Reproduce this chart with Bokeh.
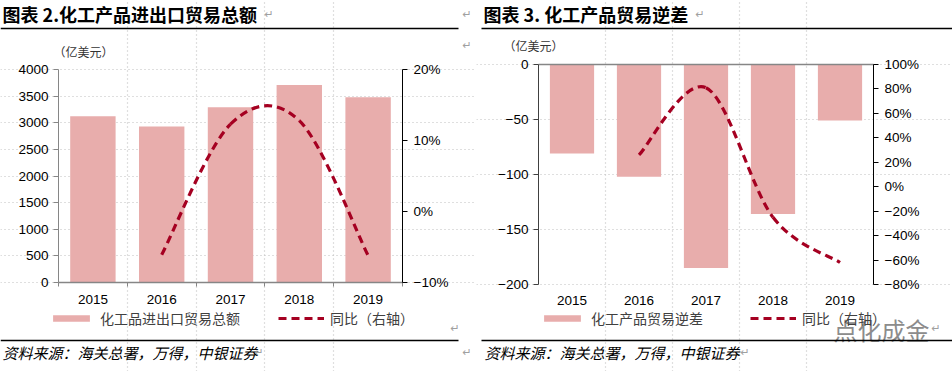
from bokeh.plotting import figure
from bokeh.models import (Range1d, LinearAxis, FixedTicker, Label, BoxAnnotation,
                          Legend, LegendItem, ColumnDataSource)
from bokeh.layouts import row
from bokeh.embed import file_html
from bokeh.resources import INLINE

# ---------------- data ----------------
years = ["2015", "2016", "2017", "2018", "2019"]
trade_total = [3120, 2930, 3290, 3710, 3480]          # 亿美元
trade_total_yoy = [None, -6.1, 12.3, 12.8, -6.2]      # %
trade_deficit = [-81, -102, -185, -136, -51]          # 亿美元
trade_deficit_yoy = [None, 26, 81, -25, -62]          # %

left_y_ticks = [0, 500, 1000, 1500, 2000, 2500, 3000, 3500, 4000]
left_pct_ticks = [-10, 0, 10, 20]
left_pct_labels = ["−10%", "0%", "10%", "20%"]
right_y_ticks = [-200, -150, -100, -50, 0]
right_y_labels = ["−200", "−150", "−100", "−50", "0"]
right_pct_ticks = [-80, -60, -40, -20, 0, 20, 40, 60, 80, 100]
right_pct_labels = ["−80%", "−60%", "−40%", "−20%", "0%", "20%", "40%", "60%", "80%", "100%"]

BAR = "#E8ADAC"
LINE = "#A50021"
GRID = "#BFBFBF"
TICK_FONT = "Liberation Sans"
CJK = "Noto Sans CJK SC"
FIG_W, FIG_H = 476, 371


def smooth_segments(xs, ys):
    pts = [(x, y) for x, y in zip(xs, ys) if y is not None]
    n = len(pts)
    seg = dict(x0=[], y0=[], x1=[], y1=[], cx0=[], cy0=[], cx1=[], cy1=[])
    for i in range(n - 1):
        p0 = pts[i - 1] if i > 0 else pts[i]
        p1, p2 = pts[i], pts[i + 1]
        p3 = pts[i + 2] if i + 2 < n else pts[i + 1]
        seg["x0"].append(p1[0]); seg["y0"].append(p1[1])
        seg["x1"].append(p2[0]); seg["y1"].append(p2[1])
        seg["cx0"].append(p1[0] + (p2[0] - p0[0]) / 6)
        seg["cy0"].append(p1[1] + (p2[1] - p0[1]) / 6)
        seg["cx1"].append(p2[0] - (p3[0] - p1[0]) / 6)
        seg["cy1"].append(p2[1] - (p3[1] - p1[1]) / 6)
    return seg


def span_range(v0, v1, px0, px1, full):
    """Range whose v0 sits at pixel px0 and v1 at px1 (pixels measured along the frame)."""
    k = (v1 - v0) / (px1 - px0)
    return Range1d(v0 - px0 * k, v0 + (full - px0) * k)


def make_panel(ox, frame, values, yoy, yr, y_ticks, y_labels, pr, p_ticks, p_labels,
               deficit, y_axis_color):
    fl, ft, fr, fb = [frame[0] - ox, frame[1], frame[2] - ox, frame[3]]
    n = len(years)
    xr = span_range(0, n, fl, fr, FIG_W)
    yrng = span_range(yr[0], yr[1], FIG_H - fb, FIG_H - ft, FIG_H)
    prng = span_range(pr[0], pr[1], FIG_H - fb, FIG_H - ft, FIG_H)
    p = figure(width=FIG_W, height=FIG_H, output_backend="svg", toolbar_location=None,
               x_range=xr, y_range=yrng, min_border=0,
               outline_line_color=None, background_fill_color="white",
               border_fill_color="white")
    p.extra_y_ranges = {"pct": prng}

    xc = [i + 0.5 for i in range(n)]
    src = ColumnDataSource(dict(x=xc, v=values, zero=[0] * n))
    bars = p.vbar(x="x", top="v", bottom="zero", width=0.66, source=src,
                  fill_color=BAR, line_color=None)

    seg = smooth_segments(xc, yoy)
    line = p.bezier(x0="x0", y0="y0", x1="x1", y1="y1", cx0="cx0", cy0="cy0",
                    cx1="cx1", cy1="cy1", source=ColumnDataSource(seg),
                    y_range_name="pct", line_color=LINE, line_width=3.2,
                    line_dash="8 5")

    # x axis
    xa = p.xaxis[0]
    xa.ticker = FixedTicker(ticks=xc, minor_ticks=list(range(n + 1)))
    xa.major_label_overrides = {x: y for x, y in zip(xc, years)}
    xa.major_tick_line_color = None
    xa.major_label_text_font = TICK_FONT
    xa.major_label_text_font_size = "13.5px"
    xa.major_label_text_color = "#000000"
    xa.bounds = (0, n)
    if deficit:
        xa.fixed_location = yr[0]
        xa.axis_line_color = None
        xa.minor_tick_line_color = None
        xa.major_label_standoff = 5
        top = LinearAxis(ticker=FixedTicker(ticks=[]), axis_line_color="#868686",
                         axis_line_width=1.5, major_tick_line_color=None,
                         minor_tick_line_color=None, fixed_location=0, bounds=(0, n))
        p.add_layout(top, "above")
    else:
        xa.fixed_location = 0
        xa.axis_line_color = "#868686"
        xa.axis_line_width = 1.5
        xa.minor_tick_line_color = "#868686"
        xa.minor_tick_out = 4
        xa.minor_tick_in = 0
        xa.major_label_standoff = 6

    # left y axis
    ya = p.yaxis[0]
    ya.fixed_location = 0
    ya.bounds = yr
    ya.ticker = FixedTicker(ticks=y_ticks)
    if y_labels is not None:
        ya.major_label_overrides = {t: l for t, l in zip(y_ticks, y_labels)}
    ya.axis_line_color = y_axis_color
    ya.major_tick_line_color = y_axis_color
    ya.minor_tick_line_color = None
    ya.major_tick_out = 5
    ya.major_tick_in = 0
    ya.major_label_standoff = 5
    ya.major_label_text_font = TICK_FONT
    ya.major_label_text_font_size = "13.5px"
    ya.major_label_text_color = "#000000"

    # right y axis
    ra = LinearAxis(y_range_name="pct", ticker=FixedTicker(ticks=p_ticks), fixed_location=n,
                    bounds=pr,
                    major_label_overrides={t: l for t, l in zip(p_ticks, p_labels)},
                    axis_line_color="#000000", major_tick_line_color="#000000",
                    minor_tick_line_color=None, major_tick_out=5, major_tick_in=0,
                    major_label_standoff=6, major_label_text_font=TICK_FONT,
                    major_label_text_font_size="13.5px", major_label_text_color="#000000")
    p.add_layout(ra, "right")

    # grids
    p.xgrid.ticker = FixedTicker(ticks=list(range(1, n)))
    p.xgrid.bounds = yr
    p.ygrid.ticker = FixedTicker(ticks=y_ticks)
    p.ygrid.bounds = (0, n)
    for g in (p.xgrid, p.ygrid):
        g.grid_line_color = GRID
        g.grid_line_dash = "1 3"
        g.grid_line_width = 1.2

    return p, bars, line


def place(p, ox, text, rx, ry, size, color="#000000", font=CJK, style="normal",
          align="left"):
    p.add_layout(Label(x=rx - ox, y=FIG_H - ry, x_units="screen", y_units="screen",
                       text=text, text_font=font, text_font_size=size,
                       text_color=color, text_font_style=style, text_align=align,
                       text_baseline="middle"))


def rule(p, ox, rx0, rx1, ry):
    p.add_layout(BoxAnnotation(left=rx0 - ox, right=rx1 - ox, top=FIG_H - ry + 0.7,
                               bottom=FIG_H - ry - 0.7, left_units="screen",
                               right_units="screen", top_units="screen",
                               bottom_units="screen", fill_color="#000000",
                               fill_alpha=1, line_color=None))


def legend(p, ox, bars, line, labels, rx, ry, spacing):
    lg = Legend(items=[LegendItem(label=labels[0], renderers=[bars]),
                       LegendItem(label=labels[1], renderers=[line])],
                orientation="horizontal", location=(rx - ox, FIG_H - ry - 7),
                padding=0, margin=0, spacing=spacing, glyph_width=46, glyph_height=8,
                label_standoff=6, label_height=14, border_line_color=None,
                background_fill_alpha=0, label_text_font=CJK,
                label_text_font_size="14px", label_text_color="#404040")
    p.add_layout(lg)


MARK = dict(size="11px", color="#A0A0A0", font="DejaVu Sans")

# ---------------- left panel ----------------
LF = (58, 69, 402, 282)
p1, b1, l1 = make_panel(0, LF, trade_total, trade_total_yoy, (0, 4000), left_y_ticks, None,
                        (-10, 20), left_pct_ticks, left_pct_labels, False, "#868686")
place(p1, 0, "图表 2.化工产品进出口贸易总额", 2, 13, "18px", style="bold")
place(p1, 0, "↵", 264, 14, **MARK)
place(p1, 0, "↵", 462, 14, **MARK)
place(p1, 0, "↵", 462, 45, **MARK)
rule(p1, 0, 0, 458, 28)
place(p1, 0, "（亿美元）", 53, 51, "12px", color="#333333")
legend(p1, 0, b1, l1, ["化工品进出口贸易总额", "同比（右轴）"], 48, 321, 38)
place(p1, 0, "↵", 450, 328, **MARK)
rule(p1, 0, 0, 458, 340)
place(p1, 0, "资料来源：海关总署，万得，中银证券", 2, 352, "15px", style="italic")
place(p1, 0, "↵", 254, 352, **MARK)
place(p1, 0, "↵", 462, 352, **MARK)

# ---------------- right panel ----------------
RF = (538, 64, 873, 284)
p2, b2, l2 = make_panel(476, RF, trade_deficit, trade_deficit_yoy, (-200, 0), right_y_ticks,
                        right_y_labels, (-80, 100), right_pct_ticks, right_pct_labels,
                        True, "#404040")
place(p2, 476, "图表 3. 化工产品贸易逆差", 483, 13, "18px", style="bold")
place(p2, 476, "↵", 695, 14, **MARK)
rule(p2, 476, 481, 952, 28)
place(p2, 476, "（亿美元）", 503, 45, "12px", color="#333333")
legend(p2, 476, b2, l2, ["化工产品贸易逆差", "同比（右轴）"], 539, 321, 47)
place(p2, 476, "点化成金", 833, 329, "24px", color="#8C8C8C")
place(p2, 476, "↵", 931, 328, **MARK)
rule(p2, 476, 481, 952, 340)
place(p2, 476, "资料来源：海关总署，万得，中银证券", 484, 352, "15px", style="italic")
place(p2, 476, "↵", 740, 352, **MARK)

layout = row(p1, p2)
open("out.html", "w").write(file_html(layout, INLINE))
